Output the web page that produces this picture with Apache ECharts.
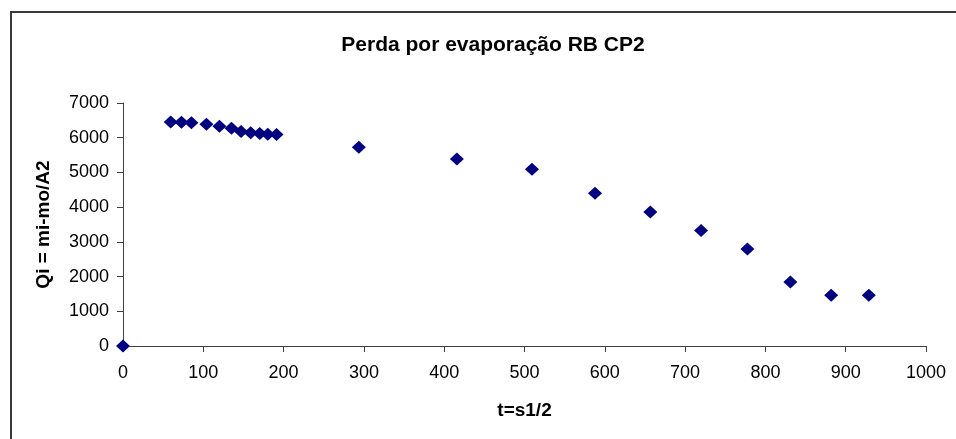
<!DOCTYPE html>
<html>
<head>
<meta charset="utf-8">
<script src="https://cdn.jsdelivr.net/npm/echarts@6/dist/echarts.min.js"></script>
<style>
  html, body { margin: 0; padding: 0; background: #ffffff; }
  #chart { width: 956px; height: 439px; }
</style>
</head>
<body>
<div id="chart"></div>
<script>
// Evaporation loss measurements, specimen RB CP2
const tValues = [0, 59.4, 72.8, 85.2, 103.9, 120.1, 135.1, 147, 159, 170.3, 180.3, 191.2,
                 293.7, 415.8, 509.3, 587.8, 656.7, 719.9, 777.6, 831.1, 881.9, 928.8];
const qiValues = [0, 6455, 6447, 6430, 6390, 6330, 6275, 6180, 6140, 6120, 6100, 6090,
                  5725, 5390, 5090, 4400, 3860, 3330, 2795, 1845, 1460, 1460];

const titleText = 'Perda por evaporação RB CP2';
const xAxisName = 't=s1/2';
const yAxisName = 'Qi = mi-mo/A2';

const font = 'Liberation Sans, Arial, sans-serif';
const axisColor = '#404040';

const points = tValues.map((t, i) => [t, qiValues[i]]);

// plain integers, no thousands separator
const plainNumber = v => String(v);

const chart = echarts.init(document.getElementById('chart'), null, { renderer: 'canvas' });
chart.setOption({
  animation: false,
  backgroundColor: '#ffffff',
  title: {
    text: titleText,
    left: 488,
    textAlign: 'center',
    top: 30,
    textStyle: { fontFamily: font, fontWeight: 'bold', fontSize: 21, color: '#000000' }
  },
  grid: { left: 123, right: 30, top: 103, bottom: 93, containLabel: false },
  xAxis: {
    type: 'value',
    min: 0, max: 1000, interval: 100,
    name: xAxisName,
    nameLocation: 'middle',
    nameGap: 55,
    nameTextStyle: { fontFamily: font, fontWeight: 'bold', fontSize: 19, color: '#000000' },
    axisLine: { show: true, lineStyle: { color: axisColor, width: 1 } },
    axisTick: { show: true, inside: false, length: 6, lineStyle: { color: axisColor } },
    axisLabel: { fontFamily: font, fontSize: 18, color: '#000000', margin: 18, formatter: plainNumber },
    splitLine: { show: false }
  },
  yAxis: {
    type: 'value',
    min: 0, max: 7000, interval: 1000,
    name: yAxisName,
    nameLocation: 'middle',
    nameGap: 70,
    nameRotate: 90,
    nameTextStyle: { fontFamily: font, fontWeight: 'bold', fontSize: 19, color: '#000000' },
    axisLine: { show: true, lineStyle: { color: axisColor, width: 1 } },
    axisTick: { show: true, inside: false, length: 6, lineStyle: { color: axisColor } },
    axisLabel: { fontFamily: font, fontSize: 18, color: '#000000', margin: 14, formatter: plainNumber },
    splitLine: { show: false }
  },
  graphic: [{
    type: 'rect',
    silent: true,
    z: 100,
    shape: { x: 11, y: 12, width: 1000, height: 500 },
    style: { fill: 'none', stroke: '#3a3a3a', lineWidth: 2 }
  }],
  series: [{
    type: 'scatter',
    data: points,
    symbol: 'diamond',
    symbolSize: [14, 13],
    itemStyle: { color: '#000080', opacity: 1 }
  }]
});
</script>
</body>
</html>
